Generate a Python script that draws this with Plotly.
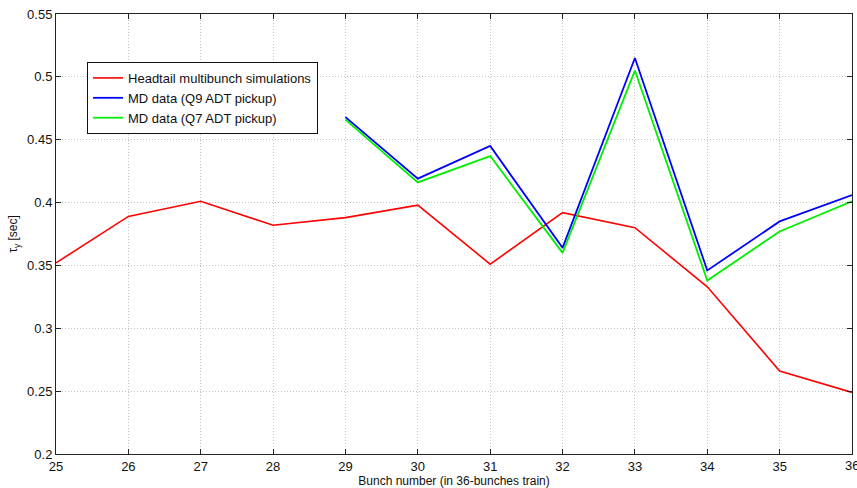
import plotly.graph_objects as go

bunch_sim = [25, 26, 27, 28, 29, 30, 31, 32, 33, 34, 35, 36]
tau_sim = [0.352, 0.389, 0.401, 0.382, 0.388, 0.398, 0.351, 0.392, 0.380, 0.333, 0.266, 0.249]

bunch_md = [29, 30, 31, 32, 33, 34, 35, 36]
tau_q9 = [0.468, 0.419, 0.445, 0.364, 0.515, 0.346, 0.385, 0.406]
tau_q7 = [0.466, 0.416, 0.437, 0.360, 0.505, 0.338, 0.377, 0.401]

x_ticks = list(range(25, 37))
y_ticks = [0.2, 0.25, 0.3, 0.35, 0.4, 0.45, 0.5, 0.55]
y_tick_text = ["0.2", "0.25", "0.3", "0.35", "0.4", "0.45", "0.5", "0.55"]

fig = go.Figure()
fig.add_trace(go.Scatter(x=bunch_sim, y=tau_sim, mode="lines",
                         name="Headtail multibunch simulations",
                         line=dict(color="#ff0000", width=1.6)))
fig.add_trace(go.Scatter(x=bunch_md, y=tau_q9, mode="lines",
                         name="MD data (Q9 ADT pickup)",
                         line=dict(color="#0000ff", width=1.8)))
fig.add_trace(go.Scatter(x=bunch_md, y=tau_q7, mode="lines",
                         name="MD data (Q7 ADT pickup)",
                         line=dict(color="#00ee00", width=1.8)))

axis_common = dict(showline=True, linecolor="#222222", linewidth=1, mirror="ticks",
                   ticks="inside", ticklen=5, tickcolor="#222222",
                   showgrid=True, gridcolor="#c4c4c4", griddash="1px,2px", gridwidth=1,
                   zeroline=False, tickfont=dict(family="Liberation Sans, Arial", size=13, color="#111111"))

fig.update_layout(
    width=857, height=488,
    margin=dict(l=56, r=5, t=14, b=34),
    paper_bgcolor="white", plot_bgcolor="white",
    font=dict(family="Liberation Sans, Arial", size=12, color="#111111"),
    xaxis=dict(range=[25, 36], tickvals=x_ticks[:-1],
               title=dict(text="Bunch number (in 36-bunches train)", standoff=0,
                          font=dict(size=12)),
               **axis_common),
    yaxis=dict(range=[0.2, 0.55], tickvals=y_ticks, ticktext=y_tick_text,
               title=dict(text="τ<sub>y</sub> [sec]", standoff=6, font=dict(size=12)),
               **axis_common),
    legend=dict(x=0.039, y=0.891, xanchor="left", yanchor="top",
                bgcolor="white", bordercolor="#111111", borderwidth=1,
                font=dict(size=13), itemwidth=30, tracegroupgap=0),
    showlegend=True,
)

fig.add_annotation(x=x_ticks[-1], y=0, xref="x", yref="paper", yanchor="top",
                   text=str(x_ticks[-1]), showarrow=False, yshift=-2,
                   font=dict(family="Liberation Sans, Arial", size=13, color="#111111"))

fig.write_html("out.html")
